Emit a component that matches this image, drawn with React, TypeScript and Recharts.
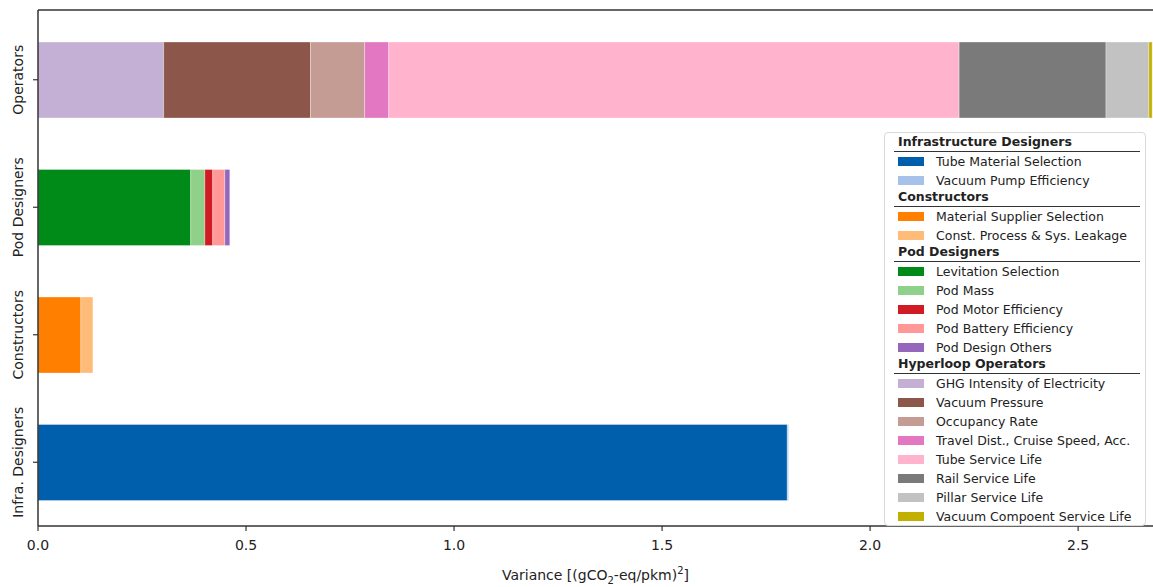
import React from "react";
import { BarChart, Bar, XAxis, YAxis, Label, CartesianGrid } from "recharts";

// categories, top to bottom
const categories = ["Operators", "Pod Designers", "Constructors", "Infra. Designers"];
const xTicks = [0, 0.5, 1.0, 1.5, 2.0, 2.5];

// variance contributions per category (same order as categories)
const tubeMaterial = [0, 0, 0, 1.801];
const vacuumPump = [0, 0, 0, 0.003];
const materialSupplier = [0, 0, 0.103, 0];
const constProcess = [0, 0, 0.029, 0];
const levitation = [0, 0.367, 0, 0];
const podMass = [0, 0.034, 0, 0];
const podMotor = [0, 0.019, 0, 0];
const podBattery = [0, 0.029, 0, 0];
const podOthers = [0, 0.012, 0, 0];
const ghgIntensity = [0.302, 0, 0, 0];
const vacuumPressure = [0.353, 0, 0, 0];
const occupancy = [0.13, 0, 0, 0];
const travelDist = [0.058, 0, 0, 0];
const tubeLife = [1.371, 0, 0, 0];
const railLife = [0.353, 0, 0, 0];
const pillarLife = [0.103, 0, 0, 0];
const vacuumCompLife = [0.008, 0, 0, 0];

const groups = [
  {
    title: "Infrastructure Designers",
    items: [
      { key: "tubeMaterial", label: "Tube Material Selection", color: "#005fad", values: tubeMaterial },
      { key: "vacuumPump", label: "Vacuum Pump Efficiency", color: "#a6c2ea", values: vacuumPump },
    ],
  },
  {
    title: "Constructors",
    items: [
      { key: "materialSupplier", label: "Material Supplier Selection", color: "#ff7f00", values: materialSupplier },
      { key: "constProcess", label: "Const. Process & Sys. Leakage", color: "#ffbb78", values: constProcess },
    ],
  },
  {
    title: "Pod Designers",
    items: [
      { key: "levitation", label: "Levitation Selection", color: "#008a17", values: levitation },
      { key: "podMass", label: "Pod Mass", color: "#8fd18a", values: podMass },
      { key: "podMotor", label: "Pod Motor Efficiency", color: "#d01a24", values: podMotor },
      { key: "podBattery", label: "Pod Battery Efficiency", color: "#ff9896", values: podBattery },
      { key: "podOthers", label: "Pod Design Others", color: "#9467bd", values: podOthers },
    ],
  },
  {
    title: "Hyperloop Operators",
    items: [
      { key: "ghg", label: "GHG Intensity of Electricity", color: "#c5b0d5", values: ghgIntensity },
      { key: "vacuumPressure", label: "Vacuum Pressure", color: "#8c564b", values: vacuumPressure },
      { key: "occupancy", label: "Occupancy Rate", color: "#c49c94", values: occupancy },
      { key: "travel", label: "Travel Dist., Cruise Speed, Acc.", color: "#e377c2", values: travelDist },
      { key: "tubeLife", label: "Tube Service Life", color: "#ffb3cc", values: tubeLife },
      { key: "railLife", label: "Rail Service Life", color: "#7a7a7a", values: railLife },
      { key: "pillarLife", label: "Pillar Service Life", color: "#c2c2c2", values: pillarLife },
      { key: "vacuumCompLife", label: "Vacuum Compoent Service Life", color: "#c2b000", values: vacuumCompLife },
    ],
  },
];

const allSeries = groups.flatMap((g) => g.items);

const data = categories.map((name, i) => {
  const row: any = { name };
  allSeries.forEach((s) => {
    row[s.key] = s.values[i];
  });
  return row;
});

const FONT = "'DejaVu Sans', sans-serif";

const YTick = ({ x, y, payload }: any) => (
  <text
    x={0}
    y={0}
    transform={`translate(${x - 8},${y}) rotate(-90)`}
    textAnchor="middle"
    fontSize={14}
    fontFamily={FONT}
    fill="#222"
  >
    {payload.value}
  </text>
);

const XLabel = ({ viewBox }: any) => {
  const cx = viewBox.x + viewBox.width / 2;
  return (
    <text x={cx} y={viewBox.y + 54} textAnchor="middle" fontSize={14} fontFamily={FONT} fill="#222">
      <tspan>Variance [(gCO</tspan>
      <tspan fontSize={10} dy={4}>2</tspan>
      <tspan dy={-4}>-eq/pkm)</tspan>
      <tspan fontSize={10} dy={-6}>2</tspan>
      <tspan dy={6}>]</tspan>
    </text>
  );
};

const GroupedLegend = () => (
  <div
    style={{
      position: "absolute",
      left: 884,
      top: 132,
      width: 262,
      height: 394,
      boxSizing: "border-box",
      border: "1px solid #d9d9d9",
      borderRadius: 4,
      background: "rgba(255,255,255,0.85)",
      padding: "2px 5px 0 9px",
      fontFamily: FONT,
      fontSize: 12.5,
      color: "#222",
    }}
  >
    {groups.map((g) => (
      <div key={g.title}>
        <div
          style={{
            fontWeight: "bold",
            lineHeight: "14px",
            paddingLeft: 4,
            paddingBottom: 2,
            borderBottom: "1.5px solid #333",
          }}
        >
          {g.title}
        </div>
        {g.items.map((it) => (
          <div key={it.key} style={{ height: 19, display: "flex", alignItems: "center", paddingLeft: 4 }}>
            <span style={{ width: 26, height: 9, background: it.color, marginRight: 12, flexShrink: 0 }} />
            <span style={{ whiteSpace: "nowrap" }}>{it.label}</span>
          </div>
        ))}
      </div>
    ))}
  </div>
);

export default function App() {
  return (
    <div style={{ position: "absolute", left: 0, top: 0, width: 1153, height: 587, background: "#fff" }}>
      <BarChart
        width={1153}
        height={587}
        data={data}
        layout="vertical"
        barSize={76}
        margin={{ top: 10, right: 0, bottom: 0, left: 0 }}
      >
        <CartesianGrid vertical={false} horizontalPoints={[10]} stroke="#333" strokeWidth={1.5} />
        <XAxis
          type="number"
          domain={[0, 2.68]}
          ticks={xTicks}
          allowDataOverflow
          height={61}
          tickFormatter={(v: number) => v.toFixed(1)}
          tick={{ fontSize: 14, fontFamily: FONT, fill: "#222" }}
          tickSize={5}
          tickMargin={9}
          axisLine={{ stroke: "#333", strokeWidth: 1.5 }}
          tickLine={{ stroke: "#333", strokeWidth: 1.2 }}
        >
          <Label content={XLabel} />
        </XAxis>
        <YAxis
          type="category"
          dataKey="name"
          width={38}
          padding={{ top: 6, bottom: 0 }}
          tick={<YTick />}
          tickSize={5}
          axisLine={{ stroke: "#333", strokeWidth: 1.5 }}
          tickLine={{ stroke: "#333", strokeWidth: 1.2 }}
        />
        {allSeries.map((s) => (
          <Bar
            key={s.key}
            dataKey={s.key}
            stackId="a"
            fill={s.color}
            stroke="#ffffff"
            strokeOpacity={0.4}
            strokeWidth={0.8}
            isAnimationActive={false}
          />
        ))}
      </BarChart>
      <GroupedLegend />
    </div>
  );
}
